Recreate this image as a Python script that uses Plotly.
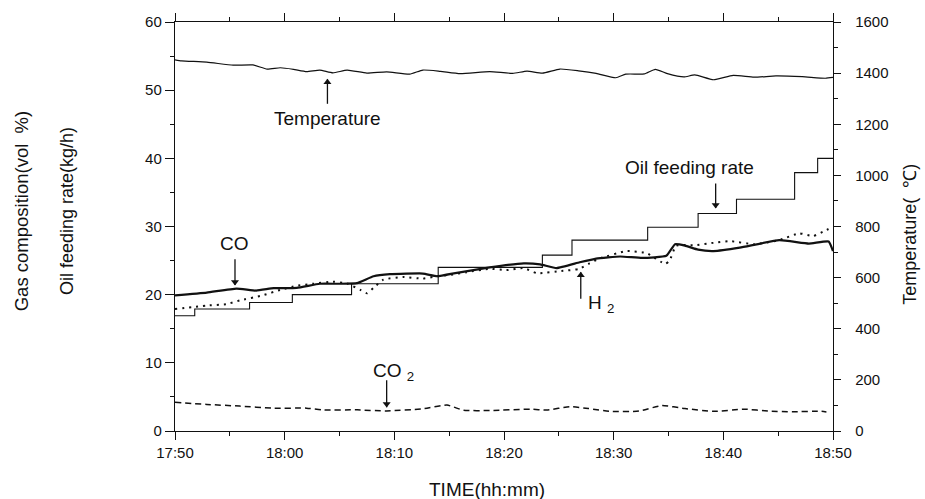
import plotly.graph_objects as go

# ---- time axis (minutes after 17:50) ----
tick_minutes = [0, 10, 20, 30, 40, 50, 60]
tick_labels = ["17:50", "18:00", "18:10", "18:20", "18:30", "18:40", "18:50"]

# ---- Temperature (deg C, right axis) ----
temp_t = [0, 0.6, 2.9, 5.3, 7.1, 8.4, 9.6, 10.8, 12.0, 13.2, 14.4, 15.7, 17.5, 19.3,
          21.4, 22.6, 24.2, 26.0, 28.7, 30.8, 32.1, 33.5, 35.1, 36.8, 38.4, 40.2,
          41.1, 42.8, 43.8, 44.9, 46.4, 47.4, 49.1, 50.9, 52.8, 54.8, 57.2, 59.3, 60]
temp_v = [1452, 1448, 1443, 1431, 1432, 1416, 1421, 1415, 1406, 1412, 1401, 1412, 1400, 1405,
          1396, 1412, 1407, 1398, 1406, 1399, 1408, 1400, 1416, 1409, 1399, 1382,
          1396, 1397, 1415, 1398, 1385, 1393, 1374, 1391, 1384, 1389, 1386, 1380, 1383]

# ---- Oil feeding rate (kg/h, step changes) ----
oil_t = [0, 1.8, 6.8, 10.7, 16.1, 24.0, 33.5, 36.2, 43.1, 47.7, 51.2, 56.5, 58.6, 60]
oil_v = [16.9, 17.9, 18.85, 20.0, 21.6, 24.0, 25.8, 28.0, 29.9, 31.9, 34.0, 37.9, 40.0, 40.0]

# ---- CO (vol %) ----
co_t = [0, 2.9, 5.6, 7.4, 9.0, 11.1, 13.2, 15.0, 16.6, 18.1, 19.6, 22.6, 23.9, 25.7,
        28.7, 31.8, 33.3, 34.8, 36.9, 38.4, 40.6, 42.6, 44.8, 45.6, 46.5, 47.7, 49.1,
        51.5, 55.1, 57.8, 59.6, 60]
co_v = [19.9, 20.3, 20.9, 20.6, 20.95, 21.0, 21.6, 21.6, 21.7, 22.7, 23.0, 23.1, 22.7, 23.2,
        24.0, 24.6, 24.45, 23.9, 24.75, 25.3, 25.6, 25.4, 25.7, 27.4, 27.2, 26.6, 26.4,
        26.9, 28.0, 27.5, 27.8, 26.4]

# ---- H2 (vol %) ----
h2_t = [0, 2.9, 4.7, 5.9, 8.0, 9.6, 11.1, 12.6, 14.4, 15.7, 16.9, 17.5, 18.1, 19.0, 20.8,
        22.6, 23.9, 25.1, 26.6, 28.7, 30.2, 31.8, 33.0, 35.4, 36.8, 37.8, 38.7, 41.2,
        43.0, 44.7, 45.1, 45.7, 47.4, 49.1, 50.6, 52.8, 55.1, 56.9, 58.2, 59.3, 59.8]
h2_v = [17.9, 18.4, 18.6, 19.15, 19.9, 20.7, 21.3, 21.6, 21.9, 21.65, 20.7, 20.2, 21.0, 22.2, 22.6,
        22.35, 22.7, 22.9, 23.3, 23.8, 23.6, 23.9, 23.15, 23.5, 23.75, 24.6, 25.3, 26.4,
        26.1, 24.5, 25.0, 27.2, 27.25, 27.6, 27.85, 27.4, 28.0, 29.0, 28.6, 29.4, 29.8]

# ---- CO2 (vol %) ----
co2_t = [0, 2.9, 5.9, 8.9, 12.0, 13.5, 16.6, 19.3, 22.6, 24.8, 26.3, 28.7, 32.4, 33.9,
         36.0, 37.7, 39.8, 42.3, 44.4, 46.5, 49.1, 51.9, 54.2, 56.3, 58.8, 59.4]
co2_v = [4.2, 3.9, 3.65, 3.35, 3.35, 3.1, 3.1, 2.95, 3.25, 3.8, 3.05, 3.0, 3.2, 3.07,
         3.57, 3.3, 2.86, 2.93, 3.73, 3.29, 2.88, 3.2, 2.92, 2.83, 2.9, 2.8]

# ---- pointer arrows: (x, head value, tail value) in left-axis units ----
arrow_x = [13.9, 5.47, 19.3, 37.0, 49.3]
arrow_head = [51.6, 21.4, 3.5, 23.3, 32.7]
arrow_tail = [48.0, 25.2, 7.46, 19.4, 36.3]

INK = "#111111"
FONT = "Liberation Sans, Arial, sans-serif"

fig = go.Figure()
fig.add_trace(go.Scatter(x=temp_t, y=temp_v, yaxis="y2", mode="lines",
                         line=dict(color=INK, width=1.2, shape="spline", smoothing=0.5)))
fig.add_trace(go.Scatter(x=oil_t, y=oil_v, mode="lines",
                         line=dict(color=INK, width=1.1, shape="hv")))
fig.add_trace(go.Scatter(x=co2_t, y=co2_v, mode="lines",
                         line=dict(color=INK, width=1.5, dash="6px,4px", shape="spline", smoothing=0.5)))
fig.add_trace(go.Scatter(x=h2_t, y=h2_v, mode="lines",
                         line=dict(color=INK, width=2, dash="2px,5px", shape="spline", smoothing=0.4)))
fig.add_trace(go.Scatter(x=co_t, y=co_v, mode="lines",
                         line=dict(color=INK, width=2.2, shape="spline", smoothing=0.4)))

# arrows: shafts as line segments, heads as triangle markers
shaft_x, shaft_y = [], []
for ax_, h, t in zip(arrow_x, arrow_head, arrow_tail):
    shaft_x += [ax_, ax_, None]
    shaft_y += [t, h, None]
fig.add_trace(go.Scatter(x=shaft_x, y=shaft_y, mode="lines",
                         line=dict(color=INK, width=1.3), hoverinfo="skip"))
head_symbols = ["triangle-up" if h > t else "triangle-down" for h, t in zip(arrow_head, arrow_tail)]
head_y = [h - 0.45 if h > t else h + 0.45 for h, t in zip(arrow_head, arrow_tail)]
fig.add_trace(go.Scatter(x=arrow_x, y=head_y, mode="markers",
                         marker=dict(symbol=head_symbols, size=7, color=INK, line=dict(width=0)),
                         hoverinfo="skip"))

annotations = []


def label(text, x, y, size=19, xanchor="center"):
    annotations.append(dict(text=text, x=x, y=y, xref="x", yref="y", showarrow=False,
                            xanchor=xanchor, yanchor="middle",
                            font=dict(size=size, family=FONT, color=INK)))


label("Temperature", 13.95, 45.8)
label("CO", 5.47, 27.5)
label("CO <sub>2</sub>", 17.9, 8.7, xanchor="left")
label("H <sub>2</sub>", 37.45, 18.7, xanchor="left")
label("Oil feeding rate", 46.9, 38.6)


def title(text, x, y, angle, size=18):
    annotations.append(dict(text=text, x=x, y=y, xref="paper", yref="paper", showarrow=False,
                            textangle=angle, xanchor="center", yanchor="middle",
                            font=dict(size=size, family=FONT, color=INK)))


title("Gas composition(vol&nbsp; %)", -0.232, 0.538, -90, size=18.5)
title("Oil feeding rate(kg/h)", -0.164, 0.538, -90, size=18)
title("Temperature(&nbsp; ℃)", 1.117, 0.482, -90, size=18)
title("TIME(hh:mm)", 0.474, -0.142, 0, size=19)

axis_common = dict(showgrid=False, zeroline=False, showline=True, linecolor=INK, linewidth=1.4,
                   ticks="outside", tickcolor=INK, tickwidth=1.2,
                   tickfont=dict(size=15, family=FONT, color=INK))

fig.update_layout(
    width=925, height=499, autosize=False,
    margin=dict(l=175, r=92, t=22, b=68),
    paper_bgcolor="white", plot_bgcolor="white",
    showlegend=False,
    font=dict(family=FONT, color=INK),
    xaxis=dict(range=[0, 60], tickvals=tick_minutes, ticktext=tick_labels, ticklen=8,
               mirror="ticks",
               minor=dict(dtick=5, ticklen=4, ticks="outside", tickcolor=INK, tickwidth=1.2),
               **axis_common),
    yaxis=dict(range=[0, 60], dtick=10, ticklen=9,
               minor=dict(dtick=5, ticklen=4, ticks="outside", tickcolor=INK, tickwidth=1.2),
               **axis_common),
    yaxis2=dict(range=[0, 1600], dtick=200, ticklen=7, overlaying="y", side="right",
                ticklabelstandoff=11,
                minor=dict(dtick=100, ticklen=4, ticks="outside", tickcolor=INK, tickwidth=1.2),
                **axis_common),
    annotations=annotations,
)

fig.write_html("out.html")
